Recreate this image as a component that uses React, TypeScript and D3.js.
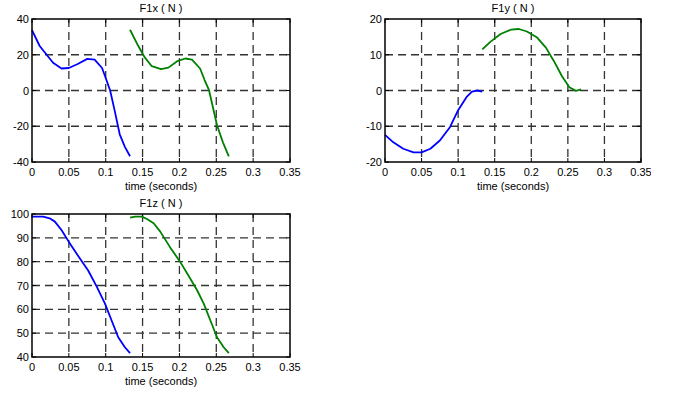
import React, { useEffect, useRef } from 'react';
import * as d3 from 'd3';

// time (s) / force (N) pairs
const f1xBlue = [
  [0, 33.8], [0.0104, 24.9], [0.0286, 15.5], [0.04, 12.3], [0.05, 12.6], [0.062, 14.8],
  [0.075, 17.7], [0.085, 17.3], [0.095, 12.6], [0.1, 7], [0.106, 0], [0.112, -11],
  [0.119, -24.5], [0.126, -31.5], [0.133, -36.8],
];
const f1xGreen = [
  [0.133, 34], [0.144, 25], [0.153, 18.5], [0.1625, 13.6], [0.175, 11.9], [0.185, 12.8],
  [0.197, 16.4], [0.208, 17.9], [0.217, 17.3], [0.228, 12.3], [0.234, 6], [0.24, 0.4],
  [0.251, -19.4], [0.259, -29], [0.267, -36.8],
];
const f1yBlue = [
  [0, -12.4], [0.0114, -14.5], [0.025, -16.3], [0.039, -17.3], [0.05, -17.3], [0.062, -16.3],
  [0.075, -14], [0.089, -10.2], [0.1, -5.5], [0.112, -1.7], [0.119, -0.3], [0.126, 0],
  [0.133, -0.3],
];
const f1yGreen = [
  [0.133, 11.5], [0.144, 13.6], [0.158, 15.8], [0.172, 17], [0.183, 17.2], [0.194, 16.5],
  [0.208, 14.8], [0.22, 12], [0.231, 8.2], [0.242, 4], [0.252, 0.9], [0.261, -0.1],
  [0.268, 0.3],
];
const f1zBlue = [
  [0, 98.9], [0.015, 98.9], [0.024, 98.2], [0.031, 96.8], [0.04, 93.3], [0.05, 88.3],
  [0.065, 81.3], [0.076, 76.4], [0.088, 69.4], [0.099, 62.4], [0.108, 55.3], [0.117, 48.3],
  [0.126, 44.1], [0.133, 41.6],
];
const f1zGreen = [
  [0.133, 98.5], [0.14, 98.9], [0.149, 98.9], [0.156, 97.9], [0.165, 96.1], [0.174, 92.6],
  [0.187, 86.2], [0.201, 79.9], [0.212, 74.3], [0.224, 68], [0.233, 62.4], [0.242, 55.3],
  [0.251, 48.3], [0.26, 44.1], [0.267, 41.6],
];

const timeTicks = [0, 0.05, 0.1, 0.15, 0.2, 0.25, 0.3, 0.35];
const f1xTicks = [-40, -20, 0, 20, 40];
const f1yTicks = [-20, -10, 0, 10, 20];
const f1zTicks = [40, 50, 60, 70, 80, 90, 100];

const panels = [
  { title: 'F1x ( N )', box: [32, 290, 19, 162], yTicks: f1xTicks, blue: f1xBlue, green: f1xGreen },
  { title: 'F1y ( N )', box: [385, 641, 19, 162], yTicks: f1yTicks, blue: f1yBlue, green: f1yGreen, clip: 651 },
  { title: 'F1z ( N )', box: [32, 290, 214, 357], yTicks: f1zTicks, blue: f1zBlue, green: f1zGreen },
];

const font = '"Liberation Sans", Arial, sans-serif';

const App = () => {
  const svgRef = useRef(null);

  useEffect(() => {
    const svg = d3.select(svgRef.current);
    svg.selectAll('*').remove();

    panels.forEach((p, idx) => {
      const [left, right, top, bottom] = p.box;
      const x = d3.scaleLinear().domain([0, 0.35]).range([left, right]);
      const y = d3.scaleLinear()
        .domain([p.yTicks[0], p.yTicks[p.yTicks.length - 1]])
        .range([bottom, top]);

      const g = svg.append('g');
      if (p.clip) {
        svg.append('clipPath').attr('id', 'clip' + idx)
          .append('rect').attr('x', 0).attr('y', 0).attr('width', p.clip).attr('height', 395);
        g.attr('clip-path', `url(#clip${idx})`);
      }

      // dashed grid
      timeTicks.slice(1, -1).forEach(t => {
        g.append('line')
          .attr('x1', x(t)).attr('x2', x(t)).attr('y1', top).attr('y2', bottom)
          .attr('stroke', '#333').attr('stroke-width', 1.3).attr('stroke-dasharray', '8,5');
      });
      p.yTicks.slice(1, -1).forEach(v => {
        g.append('line')
          .attr('x1', left).attr('x2', right).attr('y1', y(v)).attr('y2', y(v))
          .attr('stroke', '#333').attr('stroke-width', 1.3).attr('stroke-dasharray', '8,5');
      });

      // inward ticks
      timeTicks.forEach(t => {
        g.append('line').attr('x1', x(t)).attr('x2', x(t)).attr('y1', bottom).attr('y2', bottom - 4)
          .attr('stroke', '#000');
        g.append('line').attr('x1', x(t)).attr('x2', x(t)).attr('y1', top).attr('y2', top + 4)
          .attr('stroke', '#000');
      });
      p.yTicks.forEach(v => {
        g.append('line').attr('x1', left).attr('x2', left + 4).attr('y1', y(v)).attr('y2', y(v))
          .attr('stroke', '#000');
        g.append('line').attr('x1', right).attr('x2', right - 4).attr('y1', y(v)).attr('y2', y(v))
          .attr('stroke', '#000');
      });

      const line = d3.line().x(d => x(d[0])).y(d => y(d[1]));
      g.append('path').datum(p.blue).attr('d', line)
        .attr('fill', 'none').attr('stroke', '#0000ff').attr('stroke-width', 1.8)
        .attr('stroke-linejoin', 'round');
      g.append('path').datum(p.green).attr('d', line)
        .attr('fill', 'none').attr('stroke', '#008000').attr('stroke-width', 1.8)
        .attr('stroke-linejoin', 'round');

      g.append('rect')
        .attr('x', left).attr('y', top).attr('width', right - left).attr('height', bottom - top)
        .attr('fill', 'none').attr('stroke', '#000').attr('stroke-width', 1.5);

      // labels
      timeTicks.forEach(t => {
        g.append('text').attr('x', x(t)).attr('y', bottom + 14)
          .attr('text-anchor', 'middle').style('font-family', font).style('font-size', '11px')
          .text(String(t));
      });
      p.yTicks.forEach(v => {
        g.append('text').attr('x', left - 3).attr('y', y(v) + 4)
          .attr('text-anchor', 'end').style('font-family', font).style('font-size', '11px')
          .text(String(v));
      });
      g.append('text').attr('x', (left + right) / 2).attr('y', bottom + 28)
        .attr('text-anchor', 'middle').style('font-family', font).style('font-size', '11px')
        .text('time (seconds)');
      g.append('text').attr('x', (left + right) / 2).attr('y', top - 7)
        .attr('text-anchor', 'middle').style('font-family', font).style('font-size', '11px')
        .text(p.title);
    });
  }, []);

  return (
    <svg ref={svgRef} width={673} height={395}
      style={{ position: 'absolute', left: 0, top: 0, background: '#fff' }} />
  );
};

export default App;
